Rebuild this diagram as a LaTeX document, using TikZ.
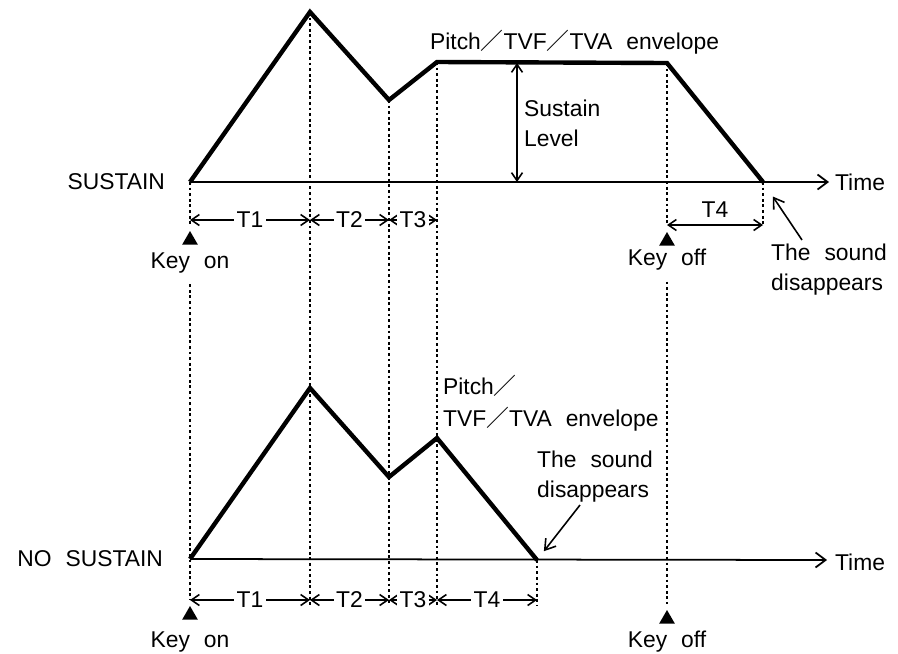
\documentclass[tikz,border=0pt]{standalone}
\usepackage{fontspec}
\setmainfont[WordSpace=2.2]{Liberation Sans}
\newfontfamily\cjk{Noto Sans CJK JP}
\usetikzlibrary{arrows.meta, positioning, calc, shapes.geometric}
\newcommand{\fsl}{{\cjk ／}}
\tikzset{
	txt/.style     ={font=\fontsize{13}{17}\selectfont, inner sep=1pt},
	env/.style     ={line width=2.5pt, line join=miter},
	axis/.style    ={line width=1pt, -{Straight Barb[length=2mm, width=3mm]}},
	guide/.style   ={line width=1.3pt, dash pattern=on 1.6pt off 1.6pt},
	span/.style    ={line width=0.9pt, {Straight Barb[length=1.6mm, width=2.2mm]}-{Straight Barb[length=1.6mm, width=2.2mm]}},
	pointer/.style ={line width=0.9pt, -{Straight Barb[length=2mm, width=2.6mm]}},
	tlabel/.style  ={fill=white, inner sep=1.5pt},
	keymark/.style ={regular polygon, regular polygon sides=3, fill=black, inner sep=0pt, minimum size=0.36cm},
}
\begin{document}
\begin{tikzpicture}[x=0.02cm, y=-0.02cm, every node/.style={txt}]
	\useasboundingbox (0,0) rectangle (898,653);
	% rows for the time spans
	\coordinate (rowA) at (0,220);
	\coordinate (rowT4) at (0,225);
	\coordinate (rowB) at (0,600);
	\coordinate (guideEnd) at (0,605);
	% SUSTAIN envelope
	\coordinate (a0) at (190,182);
	\coordinate (a1) at (310,12);
	\coordinate (a2) at (389,100);
	\coordinate (a3) at (437,62);
	\coordinate (a4) at (667,63);
	\coordinate (a5) at (763,182);
	\coordinate (aEnd) at (829,182);
	\node[left] (sus) at (167,182) {SUSTAIN};
	\node[right] (time1) at (833,182) {Time};
	\draw[axis] (a0) -- (aEnd);
	\draw[env] (a0) -- (a1) -- (a2) -- (a3) -- (a4) -- (a5);
	\node[anchor=west] (envA) at (428,42) {Pitch\fsl TVF\fsl TVA envelope};
	\coordinate (sl0) at (517,63);
	\coordinate (sl1) at (517,182);
	\draw[span] (sl0) -- (sl1);
	\node[right, align=left] (slev) at (522,123) {Sustain\\Level};
	% NO SUSTAIN envelope
	\coordinate (b0) at (190,559);
	\coordinate (b1) at (310,388);
	\coordinate (b2) at (389,477);
	\coordinate (b3) at (437,438);
	\coordinate (b4) at (537,560);
	\coordinate (bEnd) at (827,560);
	\node[left] (nsus) at (165,559) {NO SUSTAIN};
	\node[right] (time2) at (833,562) {Time};
	\draw[axis] (b0) -- (bEnd);
	\draw[env] (b0) -- (b1) -- (b2) -- (b3) -- (b4);
	\node[anchor=west, align=left] (envB) at (441,403) {Pitch\fsl\\[1pt]TVF\fsl TVA envelope};
	% key on / key off marks
	\node[keymark] (kon1) at (190,240) {};
	\node (kon1t) at (190,263) {Key on};
	\node[keymark] (kon2) at (190,615) {};
	\node (kon2t) at (190,642) {Key on};
	\node[keymark] (koff1) at (667,241) {};
	\node (koff1t) at (667,260) {Key off};
	\node[keymark] (koff2) at (667,619) {};
	\node (koff2t) at (667,642) {Key off};
	% guide lines
	\draw[guide, shorten >=3pt] (a0) -- (kon1.north);
	\draw[guide, shorten <=5pt, shorten >=3pt] (kon1t.south) -- (kon2.north);
	\foreach \p in {a1,a2,a3} \draw[guide] (\p) -- (\p |- guideEnd);
	\draw[guide, shorten >=3pt] (a4) -- (koff1.north);
	\draw[guide, shorten <=5pt, shorten >=3pt] (koff1t.south) -- (koff2.north);
	\draw[guide] (a5) -- (a5 |- rowT4);
	\draw[guide] (b4) -- (b4 |- guideEnd);
	% time spans
	\foreach \u/\v/\t in {a0/a1/T1, a1/a2/T2, a2/a3/T3}
		\draw[span] (\u |- rowA) -- node[tlabel] {\t} (\v |- rowA);
	\draw[span] (a4 |- rowT4) -- node[above=3pt] {T4} (a5 |- rowT4);
	\foreach \u/\v/\t in {b0/b1/T1, b1/b2/T2, b2/b3/T3, b3/b4/T4}
		\draw[span] (\u |- rowB) -- node[tlabel] {\t} (\v |- rowB);
	% the sound disappears
	\node[align=left] (snd1) at (829,270) {The sound\\disappears};
	\coordinate (p1) at (802,240);
	\draw[pointer] (p1) -- ($(a5)!0.25!(p1)$);
	\node[align=left] (snd2) at (595,477) {The sound\\disappears};
	\coordinate (p2) at (580,505);
	\draw[pointer] (p2) -- ($(b4)!0.16!(p2)$);
\end{tikzpicture}
\end{document}
